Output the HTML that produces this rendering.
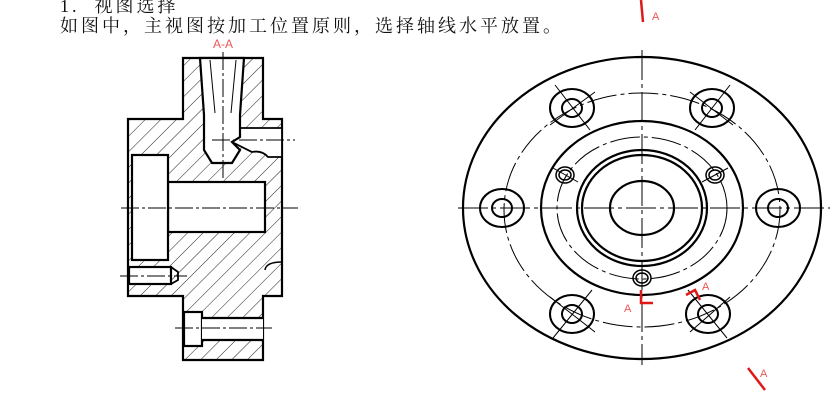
<!DOCTYPE html>
<html><head><meta charset="utf-8"><style>
html,body{margin:0;padding:0;background:#fff;}
body{width:840px;height:400px;overflow:hidden;position:relative;font-family:"Liberation Serif","Noto Serif CJK SC",serif;}
.t{position:absolute;left:60px;font-size:18px;letter-spacing:3px;color:#111;white-space:nowrap;line-height:20px;}
</style></head><body>
<div class="t" style="top:-4px">1.&nbsp;&nbsp;视图选择</div>
<div class="t" style="top:16px">如图中，主视图按加工位置原则，选择轴线水平放置。</div>
<svg width="840" height="400" style="position:absolute;left:0;top:0" xmlns="http://www.w3.org/2000/svg">
<defs>
<pattern id="h" patternUnits="userSpaceOnUse" width="11" height="11" patternTransform="rotate(45)">
<line x1="0" y1="0" x2="0" y2="11" stroke="#222" stroke-width="1"/>
</pattern>
</defs>
<g stroke="#000" stroke-width="2.2" fill="url(#h)">
<path d="M183,58 H263 V119 H282 V296 H263 V360 H183 V296 H128 V119 H183 Z"/>
</g>
<g fill="#fff" stroke="#000" stroke-width="2.2">
<rect x="168" y="182" width="97" height="50"/>
<rect x="132" y="155" width="36" height="105"/>
<path d="M238,128 H282 V157 H268 Q262,150 252,152 L232,142 Z" stroke-width="1.8"/>
<path d="M200,58 H244 L240,115 V137 L232,142 L240,150 L232,163 H212 L204,150 V115 Z"/>
<rect x="184" y="312" width="18" height="34"/>
<rect x="202" y="318" width="61" height="22" stroke-width="0"/>
<path d="M202,318 H263 M202,340 H263" />
<rect x="129" y="267" width="42" height="17"/>
</g>
<path d="M282,262 Q266,262 265,270" fill="none" stroke="#000" stroke-width="1.5"/>
<path d="M171,267 L178,272 V280 L171,284" fill="none" stroke="#000" stroke-width="1.8"/>
<g stroke="#000" stroke-width="1" fill="none" stroke-dasharray="18,3,3,3">
<line x1="121" y1="208" x2="298" y2="208"/>
<line x1="223" y1="52" x2="223" y2="178"/>
<line x1="212" y1="140" x2="295" y2="140"/>
<line x1="120" y1="276" x2="187" y2="276"/>
<line x1="175" y1="328" x2="272" y2="328"/>
</g>
<line x1="210" y1="60" x2="215" y2="113" stroke="#000" stroke-width="1"/>
<line x1="236" y1="60" x2="231" y2="113" stroke="#000" stroke-width="1"/>
<text x="223" y="48" font-family="Liberation Sans,sans-serif" font-size="12" fill="#e55" text-anchor="middle">A-A</text>
<g fill="none" stroke="#000" stroke-width="2.2">
<ellipse cx="642" cy="208" rx="179" ry="151"/>
<ellipse cx="642" cy="208" rx="101" ry="87"/>
<ellipse cx="642" cy="208" rx="65" ry="58"/>
<ellipse cx="642" cy="208" rx="60" ry="53"/>
<ellipse cx="642" cy="208" rx="32" ry="27"/>
</g>
<g fill="none" stroke="#000" stroke-width="1" stroke-dasharray="30,4,4,4">
<ellipse cx="642" cy="210" rx="138" ry="117"/>
<ellipse cx="642" cy="208" rx="85" ry="71"/>
<line x1="458" y1="208" x2="830" y2="208"/>
<line x1="642" y1="50" x2="642" y2="365"/>
</g>
<g fill="none" stroke="#000" stroke-width="2">
<g><ellipse cx="502" cy="208" rx="22" ry="19"/><ellipse cx="502" cy="208" rx="10" ry="9"/></g>
<g><ellipse cx="778" cy="208" rx="22" ry="19"/><ellipse cx="778" cy="208" rx="10" ry="9"/></g>
<g><ellipse cx="572" cy="108" rx="22" ry="19"/><ellipse cx="572" cy="108" rx="10" ry="9"/></g>
<g><ellipse cx="712" cy="108" rx="22" ry="19"/><ellipse cx="712" cy="108" rx="10" ry="9"/></g>
<g><ellipse cx="572" cy="314" rx="22" ry="19"/><ellipse cx="572" cy="314" rx="10" ry="9"/></g>
<g><ellipse cx="708" cy="314" rx="22" ry="19"/><ellipse cx="708" cy="314" rx="10" ry="9"/></g>
<g stroke-width="1.5"><ellipse cx="565" cy="175" rx="9" ry="8"/><ellipse cx="565" cy="175" rx="6" ry="5"/></g>
<g stroke-width="1.5"><ellipse cx="715" cy="175" rx="9" ry="8"/><ellipse cx="715" cy="175" rx="6" ry="5"/></g>
<g stroke-width="1.5"><ellipse cx="642" cy="278" rx="9" ry="8"/><ellipse cx="642" cy="278" rx="6" ry="5"/></g>
</g>
<g stroke="#000" stroke-width="1">
<line x1="555" y1="85" x2="590" y2="130"/><line x1="550" y1="125" x2="595" y2="92"/>
<line x1="730" y1="85" x2="695" y2="130"/><line x1="690" y1="92" x2="733" y2="125"/>
<line x1="553" y1="338" x2="592" y2="290"/><line x1="550" y1="297" x2="595" y2="332"/>
<line x1="727" y1="338" x2="688" y2="290"/><line x1="690" y1="332" x2="730" y2="297"/>
<line x1="553" y1="168" x2="578" y2="182"/><line x1="728" y1="168" x2="702" y2="182"/>
</g>
<g stroke="#e01818" stroke-width="2.5" fill="none">
<line x1="641" y1="0" x2="643" y2="22"/>
<path d="M641,290 V303 H653"/>
<path d="M686,295 L695,290 L700,300"/>
<line x1="748" y1="368" x2="765" y2="390"/>
</g>
<g font-family="Liberation Sans,sans-serif" font-size="11" fill="#e55">
<text x="652" y="20">A</text>
<text x="624" y="312">A</text>
<text x="702" y="290">A</text>
<text x="760" y="377">A</text>
</g>
</svg>
</body></html>
